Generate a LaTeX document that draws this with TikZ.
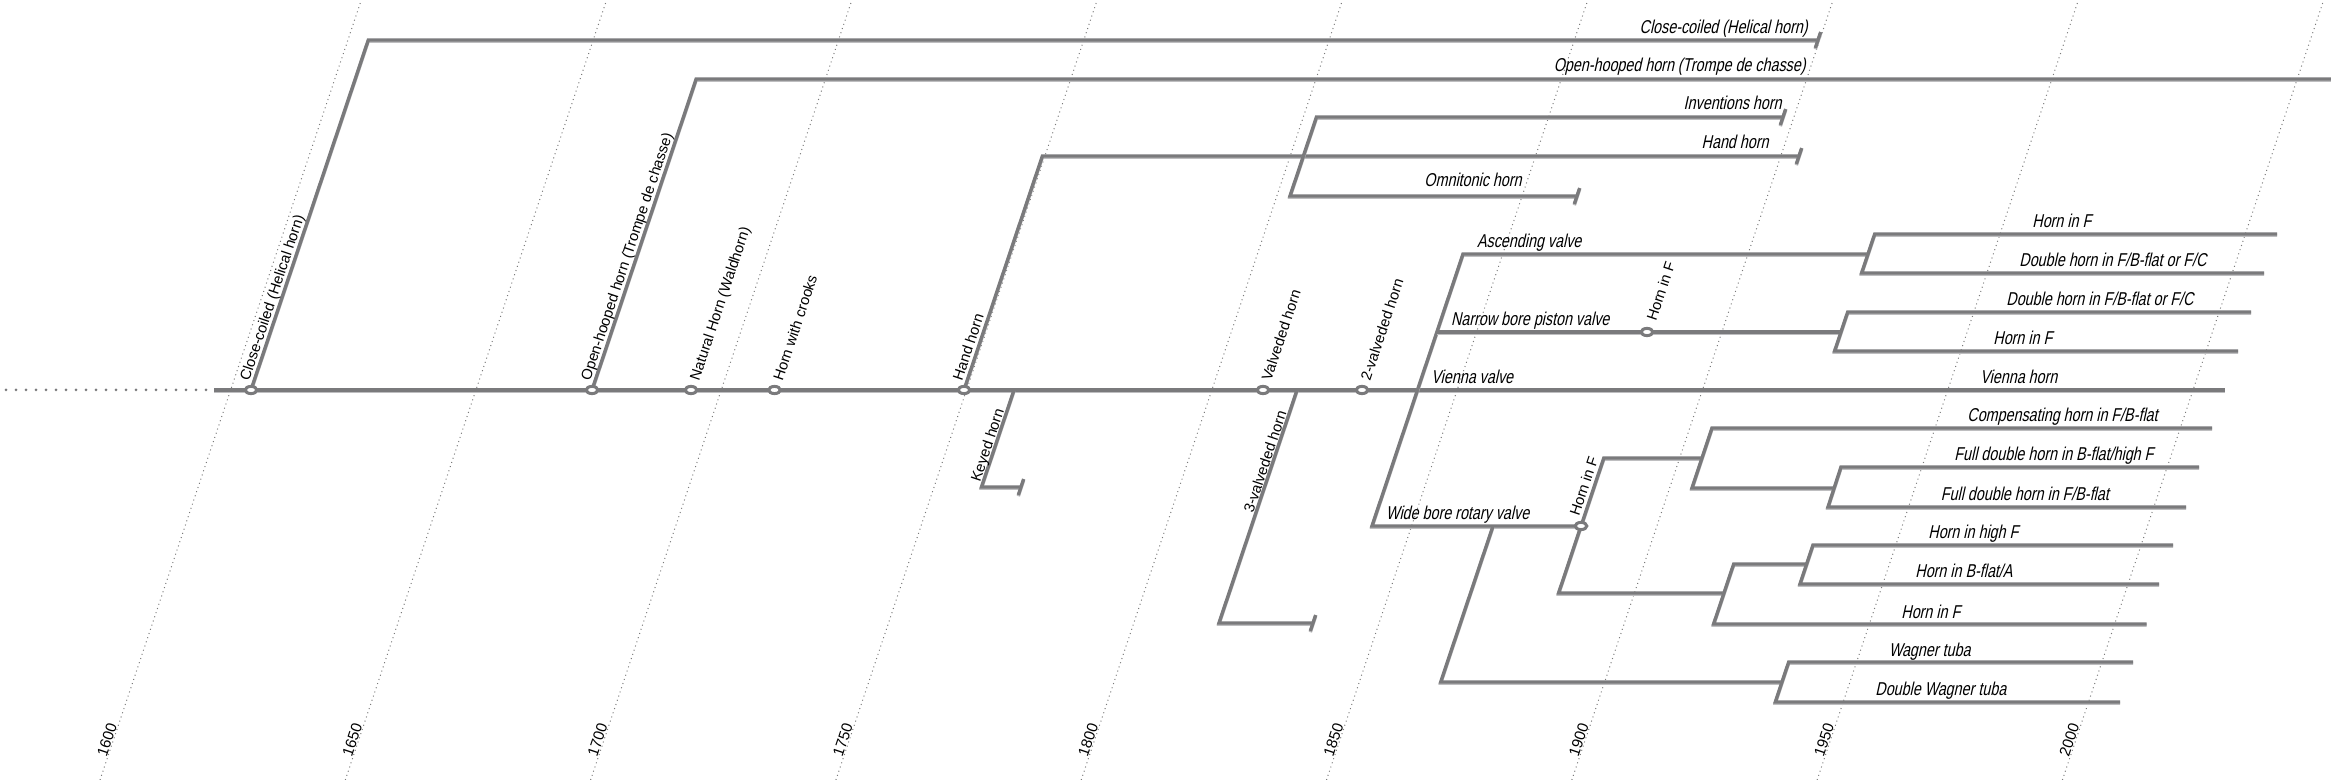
\documentclass[tikz,border=0pt]{standalone}
\usepackage{fontspec}
\setmainfont{Liberation Sans}
\newfontfamily\narrowfont[FakeStretch=0.77]{Liberation Sans}
\definecolor{lncol}{HTML}{7A7A7C}
\definecolor{shcol}{HTML}{BEBEC0}
\definecolor{gridcol}{HTML}{7A7A7A}
\newcommand\lineendtick[1]{\draw[ln] ([shift={(2.7,-8)}]#1) -- ([shift={(-2.7,8)}]#1);}
\tikzset{
  ln/.style={line width=1.7pt, draw=lncol, line join=miter,
    preaction={draw=shcol, line width=1.7pt, transform canvas={yshift=-0.6pt}}},
  dotln/.style={line width=1.5pt, draw=lncol, line cap=round, dash pattern=on 0pt off 5pt},
  gridln/.style={line width=0.5pt, draw=gridcol, dash pattern=on 0.5pt off 1.7pt},
  ring/.style={draw=lncol, line width=1.5pt, fill=white},
  lab/.style={font=\narrowfont\fontsize{9.3}{11}\selectfont, xslant=0.22, inner sep=0pt, anchor=base west},
  labr/.style={lab, anchor=base east},
  vlab/.style={font=\fontsize{7.4}{9}\selectfont, rotate=71.5, inner sep=0pt, anchor=base west},
  yearlab/.style={font=\fontsize{7.6}{9}\selectfont, rotate=71.5, inner sep=0pt, anchor=base west}
}
\begin{document}
\begin{tikzpicture}[x=0.5pt,y=-0.5pt]
\useasboundingbox (0,0) rectangle (2331,780);
% year grid
\foreach \yr [count=\i from 0] in {1600,1650,...,2000}{
  \pgfmathsetmacro{\xb}{100+245.3*\i}
  \coordinate (gb\i) at (\xb,780);
  \coordinate (gt\i) at (\xb+261.3,0);
  \draw[gridln] (gb\i) -- (gt\i);
  \node[yearlab] (yl\i) at (\xb+6.4,758) {\yr};
}
% main line
\coordinate (d0) at (6,390);
\coordinate (d1) at (207,390);
\coordinate (m0) at (214,390);
\coordinate (mE) at (2225,390);
\coordinate (r1) at (251,390);
\coordinate (r2) at (592,390);
\coordinate (r3) at (691,390);
\coordinate (r4) at (774.5,390);
\coordinate (r5) at (964,390);
\coordinate (r6) at (1263,390);
\coordinate (r7) at (1362,390);
\draw[dotln] (d0) -- (d1);
\draw[ln] (m0) -- (mE);
% close-coiled
\coordinate (h1) at (368.3,40);
\coordinate (h1e) at (1818,40);
\draw[ln] (r1) -- (h1) -- (h1e); \lineendtick{h1e}
% open-hooped
\coordinate (o1) at (696.2,79);
\coordinate (o1e) at (2331,79);
\draw[ln] (r2) -- (o1) -- (o1e);
% hand horn
\coordinate (hh1) at (1042.4,156);
\coordinate (hh1e) at (1799,156);
\draw[ln] (r5) -- (hh1) -- (hh1e); \lineendtick{hh1e}
\coordinate (iv) at (1316.5,117);
\coordinate (om) at (1290,196);
\coordinate (ive) at (1783,117);
\coordinate (ome) at (1577,196);
\draw[ln] (ome) -- (om) -- (iv) -- (ive); \lineendtick{ive} \lineendtick{ome}
% keyed
\coordinate (k0) at (1014,390);
\coordinate (k1) at (981.5,487);
\coordinate (k1e) at (1021,487);
\draw[ln] (k0) -- (k1) -- (k1e); \lineendtick{k1e}
% 3-valveded
\coordinate (t0) at (1297,390);
\coordinate (t1) at (1219,623);
\coordinate (t1e) at (1313,623);
\draw[ln] (t0) -- (t1) -- (t1e); \lineendtick{t1e}
% 2-valveded group
\coordinate (w0) at (1372,526);
\coordinate (a0) at (1463,254);
\coordinate (a1) at (1868,254);
\coordinate (wr) at (1581,526);
\draw[ln] (wr) -- (w0) -- (a0) -- (a1);
\coordinate (af) at (1874.7,234);
\coordinate (ad) at (1861.6,273);
\coordinate (afe) at (2277,234);
\coordinate (ade) at (2264,273);
\draw[ln] (afe) -- (af) -- (ad) -- (ade);
\coordinate (n0) at (1436.9,332);
\coordinate (nr) at (1647,332);
\coordinate (n1) at (1841,332);
\draw[ln] (n0) -- (n1);
\coordinate (nd) at (1847.7,312);
\coordinate (nf) at (1834.6,351);
\coordinate (nde) at (2251,312);
\coordinate (nfe) at (2238,351);
\draw[ln] (nde) -- (nd) -- (nf) -- (nfe);
% wagner
\coordinate (wb) at (1493,526);
\coordinate (wb1) at (1440.7,682);
\coordinate (wb2) at (1782,682);
\draw[ln] (wb) -- (wb1) -- (wb2);
\coordinate (wt) at (1788.7,662);
\coordinate (wd) at (1775.3,702);
\coordinate (wte) at (2133,662);
\coordinate (wde) at (2120,702);
\draw[ln] (wte) -- (wt) -- (wd) -- (wde);
% horn in F (wide bore)
\coordinate (u1) at (1603.8,458);
\coordinate (u2) at (1702,458);
\coordinate (dd1) at (1558.6,593);
\coordinate (dd2) at (1724,593);
\draw[ln] (dd2) -- (dd1) -- (u1) -- (u2);
\coordinate (uc) at (1712,428);
\coordinate (ul) at (1692,488);
\coordinate (uce) at (2212,428);
\coordinate (ul2) at (1834,488);
\draw[ln] (uce) -- (uc) -- (ul) -- (ul2);
\coordinate (ub) at (1841,467);
\coordinate (uf) at (1828,507);
\coordinate (ube) at (2199,467);
\coordinate (ufe) at (2186,507);
\draw[ln] (ube) -- (ub) -- (uf) -- (ufe);
\coordinate (dh) at (1733.7,564);
\coordinate (dF) at (1713.6,624);
\coordinate (dh2) at (1806.6,564);
\coordinate (dFe) at (2146.5,624);
\draw[ln] (dh2) -- (dh) -- (dF) -- (dFe);
\coordinate (dhh) at (1813,545);
\coordinate (dhb) at (1800,584);
\coordinate (dhhe) at (2173,545);
\coordinate (dhbe) at (2159,584);
\draw[ln] (dhhe) -- (dhh) -- (dhb) -- (dhbe);
% rings
\foreach \r in {r1,r2,r3,r4,r5,r6,r7,nr,wr}{
  \draw[ring] (\r) ellipse [x radius=5.8, y radius=3.6];
}
% rotated labels
\node[vlab] (lr1) at (249,382) {Close-coiled (Helical horn)};
\node[vlab] (lr2) at (590,382) {Open-hooped horn (Trompe de chasse)};
\node[vlab] (lr3) at (699,382) {Natural Horn (Waldhorn)};
\node[vlab] (lr4) at (782.5,382) {Horn with crooks};
\node[vlab] (lr5) at (962,382) {Hand horn};
\node[vlab] (lr6) at (1271,382) {Valveded horn};
\node[vlab] (lr7) at (1370,382) {2-valveded horn};
\node[vlab] (lk) at (980,483) {Keyed horn};
\node[vlab] (lt) at (1253,514) {3-valveded horn};
\node[vlab] (lnr) at (1656,322) {Horn in F};
\node[vlab] (lwr) at (1579,517) {Horn in F};
% top labels (right aligned)
\node[labr] (lh1) at (1808,34) {Close-coiled (Helical horn)};
\node[labr] (lo1) at (1806,72) {Open-hooped horn (Trompe de chasse)};
\node[labr] (liv) at (1782,110) {Inventions horn};
\node[labr] (lhh) at (1769,149) {Hand horn};
\node[labr] (lom) at (1522,187) {Omnitonic horn};
% middle labels
\node[lab] (la0) at (1476.7,247.5) {Ascending valve};
\node[lab] (ln0) at (1450.6,325.5) {Narrow bore piston valve};
\node[lab] (lvv) at (1431,383.5) {Vienna valve};
\node[lab] (lw0) at (1385.6,519.5) {Wide bore rotary valve};
% right labels
\node[lab] (l1) at (2032,228) {Horn in F};
\node[lab] (l2) at (2019,267) {Double horn in F/B-flat or F/C};
\node[lab] (l3) at (2006,306) {Double horn in F/B-flat or F/C};
\node[lab] (l4) at (1993,345) {Horn in F};
\node[lab] (l5) at (1980,384) {Vienna horn};
\node[lab] (l6) at (1967,422) {Compensating horn in F/B-flat};
\node[lab] (l7) at (1954,461) {Full double horn in B-flat/high F};
\node[lab] (l8) at (1940.5,501) {Full double horn in F/B-flat};
\node[lab] (l9) at (1928,539) {Horn in high F};
\node[lab] (l10) at (1915,578) {Horn in B-flat/A};
\node[lab] (l11) at (1901,618) {Horn in F};
\node[lab] (l12) at (1888.6,656) {Wagner tuba};
\node[lab] (l13) at (1875,696) {Double Wagner tuba};
\end{tikzpicture}
\end{document}
